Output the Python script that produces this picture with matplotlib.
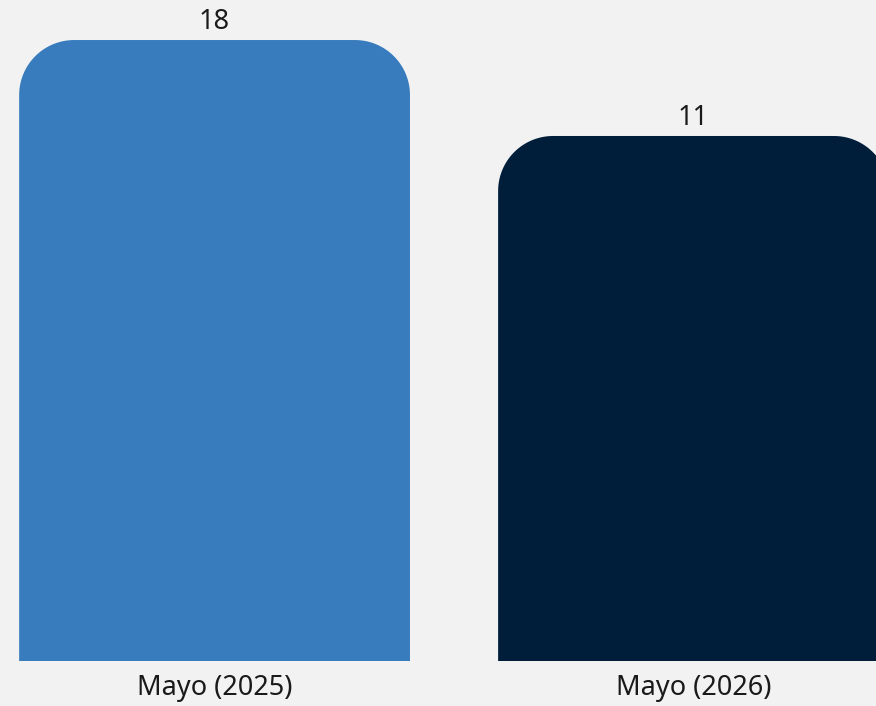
import numpy as np
import matplotlib.pyplot as plt
from matplotlib.patches import Polygon

meses = ["Mayo (2025)", "Mayo (2026)"]
valores = [18, 11]
colores = ["#387CBD", "#001E3A"]

plt.rcParams["font.family"] = ["Noto Sans", "DejaVu Sans"]

W, H = 876, 706
fig = plt.figure(figsize=(W / 100, H / 100), dpi=100, facecolor="#F2F2F2")
ax = fig.add_axes([0, 45 / H, 1, 1 - 45 / H])
ax.set_facecolor("#F2F2F2")

base = -27.3  # el eje no empieza en cero en el original
x = np.arange(len(valores))
barras = ax.bar(x, [v - base for v in valores], bottom=base, width=0.816, color=colores)
ax.set_xlim(-0.448, 1.381)
ax.set_ylim(base, 20.92)

# esquinas superiores redondeadas
px_x = W / (1.381 + 0.448)
px_y = (H - 45) / (20.92 - base)
rx, ry = 55 / px_x, 55 / px_y
t = np.linspace(0, np.pi / 2, 30)
for b in barras:
    x0, y0 = b.get_x(), b.get_y()
    x1, y1 = x0 + b.get_width(), y0 + b.get_height()
    der = np.column_stack([x1 - rx + rx * np.cos(t), y1 - ry + ry * np.sin(t)])
    izq = np.column_stack([x0 + rx - rx * np.sin(t), y1 - ry + ry * np.cos(t)])
    pts = np.vstack([[x0, y0], [x1, y0], der, izq])
    ax.add_patch(Polygon(pts, closed=True, facecolor=b.get_facecolor(), edgecolor="none"))
    b.set_visible(False)

for i, v in enumerate(valores):
    ax.annotate(str(v), (x[i], v), xytext=(0, 3), textcoords="offset points",
                ha="center", va="bottom", fontsize=19.5, color="#1a1a1a")

ax.set_xticks(x)
ax.set_xticklabels(meses, fontsize=19.5, color="#1a1a1a")
ax.tick_params(axis="x", length=0, pad=9)
ax.set_yticks([])
for s in ax.spines.values():
    s.set_visible(False)

fig.savefig("out.png", dpi=100, facecolor=fig.get_facecolor())
